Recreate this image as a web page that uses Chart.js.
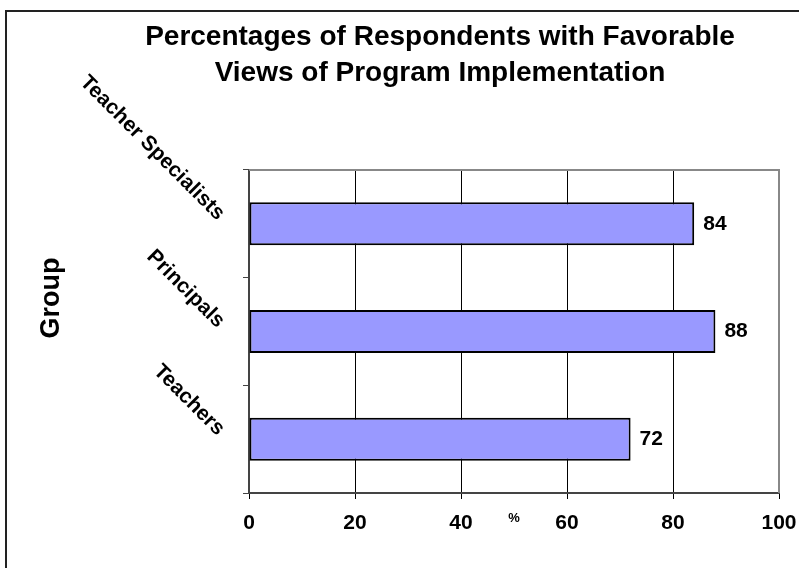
<!DOCTYPE html>
<html>
<head>
<meta charset="utf-8">
<script src="https://cdn.jsdelivr.net/npm/chart.js@4"></script>
<style>
  html, body { margin: 0; padding: 0; background: #fff; }
  #wrap { width: 799px; height: 568px; }
</style>
</head>
<body>
<div id="wrap"><canvas id="favChart" width="799" height="568"></canvas></div>
<script>
// chart data
const groups = ['Teacher Specialists', 'Principals', 'Teachers'];
const favorable = [84, 88, 72];
const titleLines = ['Percentages of Respondents with Favorable', 'Views of Program Implementation'];
const xTitle = '%';
const yTitle = 'Group';

const FONT = "'Liberation Sans', Arial, sans-serif";
Chart.defaults.font.family = FONT;
Chart.defaults.color = '#000';

// frame, title, plot border, value labels and "Group" title
const extras = {
    id: 'extras',
    beforeDraw(chart) {
        const ctx = chart.ctx;
        ctx.save();
        ctx.fillStyle = '#fff';
        ctx.fillRect(0, 0, chart.width, chart.height);
        ctx.strokeStyle = '#222';
        ctx.lineWidth = 2;
        ctx.strokeRect(6, 11, 900, 900);
        // title, centred a bit left of the plot like the original
        ctx.fillStyle = '#000';
        ctx.font = 'bold 28px ' + FONT;
        ctx.textAlign = 'center';
        ctx.textBaseline = 'middle';
        titleLines.forEach((t, i) => ctx.fillText(t, 440, 37.5 + i * 36));
        ctx.restore();
    },
    beforeDatasetsDraw(chart) {
        const ctx = chart.ctx;
        const a = chart.chartArea;
        ctx.save();
        ctx.strokeStyle = '#888';
        ctx.lineWidth = 2;
        ctx.beginPath();
        ctx.moveTo(a.left, a.top);
        ctx.lineTo(a.right, a.top);
        ctx.lineTo(a.right, a.bottom);
        ctx.stroke();
        ctx.restore();
    },
    afterDatasetsDraw(chart) {
        const ctx = chart.ctx;
        const meta = chart.getDatasetMeta(0);
        ctx.save();
        ctx.font = 'bold 21px ' + FONT;
        ctx.fillStyle = '#000';
        ctx.textBaseline = 'middle';
        ctx.textAlign = 'left';
        meta.data.forEach((bar, i) => {
            ctx.fillText(favorable[i], bar.x + 9, bar.y);
        });
        ctx.font = 'bold 27px ' + FONT;
        ctx.translate(52, 298);
        ctx.rotate(-Math.PI / 2);
        ctx.textAlign = 'center';
        ctx.fillText(yTitle, 0, 0);
        ctx.restore();
    }
};

new Chart(document.getElementById('favChart').getContext('2d'), {
    type: 'bar',
    data: {
        labels: groups,
        datasets: [{
            data: favorable,
            backgroundColor: '#9999FF',
            borderColor: '#000',
            borderWidth: 2,
            borderSkipped: false,
            barPercentage: 0.4,
            categoryPercentage: 1.0
        }]
    },
    options: {
        indexAxis: 'y',
        responsive: false,
        animation: false,
        layout: { padding: { left: 0, right: 20, top: 170, bottom: 0 } },
        plugins: {
            legend: { display: false },
            tooltip: { enabled: false },
            title: { display: false }
        },
        scales: {
            x: {
                min: 0,
                max: 100,
                ticks: { stepSize: 20, maxRotation: 0, padding: 12, color: '#000', font: { size: 21, weight: 'bold' } },
                grid: { color: '#000', lineWidth: 1, tickLength: 6 },
                border: { display: true, color: '#444', width: 2 },
                title: { display: true, text: xTitle, color: '#000', font: { size: 13, weight: 'bold' }, padding: { top: 0, bottom: 42 } },
                afterFit(scale) {
                    scale.height = 75;
                    scale.paddingLeft = 0;
                    scale.paddingRight = 0;
                }
            },
            y: {
                ticks: { minRotation: -45, maxRotation: -45, autoSkip: false, padding: 22, labelOffset: -7, color: '#000', font: { size: 21, weight: 'bold' } },
                grid: { drawOnChartArea: false, tickLength: 6, color: '#444', offset: true },
                border: { display: true, color: '#444', width: 2 },
                afterFit(scale) {
                    scale.width = 249;
                    scale.paddingTop = 0;
                    scale.paddingBottom = 0;
                }
            }
        }
    },
    plugins: [extras]
});
</script>
</body>
</html>
